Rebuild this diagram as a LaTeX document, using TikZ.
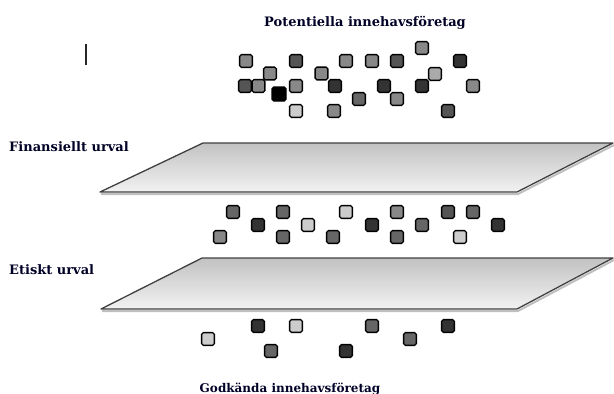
\documentclass[tikz,border=0pt]{standalone}
\usepackage{fontspec}
\newfontfamily\labfont{DejaVu Serif}
\begin{document}
\begin{tikzpicture}[x=1pt,y=-1pt,
  box/.style={draw=black,line width=1.4pt,rounded corners=1.8pt,minimum size=12.8pt,inner sep=0pt},
  plane/.style={draw=black!75,line width=1.3pt,line join=round,top color=black!24,bottom color=black!5},
  planeshadow/.style={draw=black!25,line width=2pt,line join=round},
  lab/.style={font=\labfont\bfseries\fontsize{13}{15}\selectfont,text=black!85!blue,inner sep=0pt}]
\useasboundingbox (0,0) rectangle (614,394);
\definecolor{cA}{HTML}{000000}
\definecolor{cB}{HTML}{333333}
\definecolor{cC}{HTML}{555555}
\definecolor{cD}{HTML}{666666}
\definecolor{cE}{HTML}{888888}
\definecolor{cF}{HTML}{AAAAAA}
\definecolor{cG}{HTML}{CCCCCC}

% cursor mark
\coordinate (curA) at (86,44);
\coordinate (curB) at (86,65);
\draw[line width=1.4pt,black!85] (curA) -- (curB);

% labels
\node[lab,anchor=base] (ttop) at (365,26) {Potentiella innehavsföretag};
\node[lab,anchor=base west] (tfin) at (9,151) {Finansiellt urval};
\node[lab,anchor=base west] (teth) at (9,274) {Etiskt urval};
\node[lab,anchor=base,font=\labfont\bfseries\fontsize{12}{14}\selectfont] (tbot) at (290,392) {Godkända innehavsföretag};

% planes
\coordinate (p1a) at (100,192); \coordinate (p1b) at (517,192);
\coordinate (p1c) at (613,143); \coordinate (p1d) at (203,143);
\draw[planeshadow] ([shift={(1,2)}]p1a) -- ([shift={(1,2)}]p1b) -- ([shift={(1,2)}]p1c);
\draw[plane] (p1a) -- (p1b) -- (p1c) -- (p1d) -- cycle;
\coordinate (p2a) at (101,309); \coordinate (p2b) at (517,309);
\coordinate (p2c) at (613,258); \coordinate (p2d) at (202,258);
\draw[planeshadow] ([shift={(1,2)}]p2a) -- ([shift={(1,2)}]p2b) -- ([shift={(1,2)}]p2c);
\draw[plane] (p2a) -- (p2b) -- (p2c) -- (p2d) -- cycle;

% top group
\node[box,fill=cC] (t2) at (296,61) {};
\node[box,fill=cE] (t1) at (246,61) {};
\node[box,fill=cC] (t4) at (245,86) {};
\node[box,fill=cE] (t5) at (258.5,86) {};
\node[box,fill=cE] (t3) at (270,73.5) {};
\node[box,fill=cA,minimum size=14pt] (t6) at (279,94) {};
\node[box,fill=cE] (t7) at (296,86) {};
\node[box,fill=cG] (t8) at (296,111) {};
\node[box,fill=cE] (t9) at (321.5,73.5) {};
\node[box,fill=cB] (t10) at (335,86) {};
\node[box,fill=cE] (t11) at (346,61) {};
\node[box,fill=cE] (t12) at (334,111) {};
\node[box,fill=cD] (t13) at (359,99) {};
\node[box,fill=cE] (t14) at (372,61) {};
\node[box,fill=cC] (t15) at (397,61) {};
\node[box,fill=cE] (t16) at (422,48) {};
\node[box,fill=cB] (t17) at (460,61) {};
\node[box,fill=cB] (t18) at (422,86) {};
\node[box,fill=cF] (t19) at (435,74) {};
\node[box,fill=cB] (t20) at (384,86) {};
\node[box,fill=cE] (t21) at (397,99) {};
\node[box,fill=cE] (t22) at (473,86) {};
\node[box,fill=cC] (t23) at (448,111) {};

% middle group
\node[box,fill=cD] (m1) at (233,212) {};
\node[box,fill=cE] (m2) at (220,237) {};
\node[box,fill=cB] (m3) at (258,225) {};
\node[box,fill=cD] (m4) at (283,212) {};
\node[box,fill=cD] (m5) at (283,237) {};
\node[box,fill=cG] (m6) at (308,225) {};
\node[box,fill=cD] (m7) at (333,237) {};
\node[box,fill=cG] (m8) at (346,212) {};
\node[box,fill=cB] (m9) at (372,225) {};
\node[box,fill=cE] (m10) at (397,212) {};
\node[box,fill=cD] (m11) at (397,237) {};
\node[box,fill=cD] (m12) at (422,225) {};
\node[box,fill=cC] (m13) at (448,212) {};
\node[box,fill=cD] (m14) at (473,212) {};
\node[box,fill=cG] (m15) at (460,237) {};
\node[box,fill=cB] (m16) at (498,225) {};

% bottom group
\node[box,fill=cG] (b1) at (208,339) {};
\node[box,fill=cB] (b2) at (258,326) {};
\node[box,fill=cG] (b3) at (296,326) {};
\node[box,fill=cD] (b4) at (271,351) {};
\node[box,fill=cB] (b5) at (346,351) {};
\node[box,fill=cD] (b6) at (372,326) {};
\node[box,fill=cD] (b7) at (410,339) {};
\node[box,fill=cB] (b8) at (448,326) {};
\end{tikzpicture}
\end{document}
